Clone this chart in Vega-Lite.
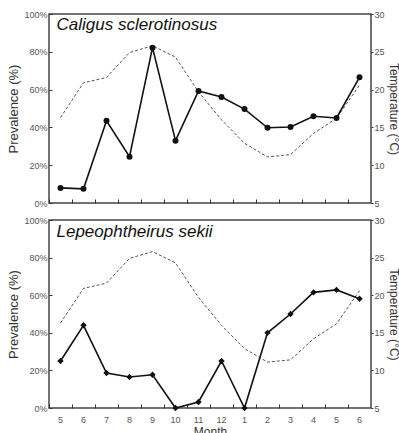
{
  "$schema": "https://vega.github.io/schema/vega-lite/v6.json",
  "padding": {"left": 7, "top": 9, "right": 1, "bottom": 0},
  "spacing": 6,
  "config": {
    "font": "Liberation Sans",
    "view": {"stroke": "#444", "strokeWidth": 1.5},
    "axis": {
      "labelFont": "Liberation Sans",
      "labelColor": "#555",
      "labelFontSize": 9,
      "titleFont": "Liberation Sans",
      "titleFontWeight": "normal",
      "titleFontSize": 13,
      "titleColor": "#333",
      "tickColor": "#333",
      "tickWidth": 1,
      "domain": false,
      "grid": false
    }
  },
  "datasets": {
    "d": [
      {"i": 0, "temp": 16.3, "caligus": 8.0, "lepeo": 25.0},
      {"i": 1, "temp": 20.9, "caligus": 7.5, "lepeo": 44.0},
      {"i": 2, "temp": 21.6, "caligus": 43.5, "lepeo": 18.6},
      {"i": 3, "temp": 24.9, "caligus": 24.5, "lepeo": 16.5},
      {"i": 4, "temp": 25.8, "caligus": 82.2, "lepeo": 17.7},
      {"i": 5, "temp": 24.3, "caligus": 33.0, "lepeo": 0.0},
      {"i": 6, "temp": 19.7, "caligus": 59.3, "lepeo": 3.2},
      {"i": 7, "temp": 16.0, "caligus": 56.1, "lepeo": 25.0},
      {"i": 8, "temp": 12.9, "caligus": 49.7, "lepeo": 0.0},
      {"i": 9, "temp": 11.1, "caligus": 39.8, "lepeo": 40.0},
      {"i": 10, "temp": 11.4, "caligus": 40.2, "lepeo": 50.0},
      {"i": 11, "temp": 14.2, "caligus": 45.9, "lepeo": 61.5},
      {"i": 12, "temp": 16.2, "caligus": 45.0, "lepeo": 62.8},
      {"i": 13, "temp": 20.6, "caligus": 66.5, "lepeo": 58.1}
    ]
  },
  "vconcat": [
    {
      "width": 322,
      "height": 189,
      "data": {"name": "d"},
      "resolve": {"scale": {"y": "independent"}, "axis": {"x": "independent"}},
      "layer": [
        {
          "mark": {"type": "line", "strokeDash": [3, 2], "strokeWidth": 1, "color": "#555"},
          "encoding": {
            "x": {"field": "i", "type": "ordinal", "scale": {"type": "band", "paddingInner": 0, "paddingOuter": 0},
                  "axis": {"bandPosition": 0, "labels": false, "title": null, "tickSize": -4, "orient": "bottom"}},
            "y": {"field": "temp", "type": "quantitative", "scale": {"domain": [5, 30], "nice": false},
                  "axis": {"orient": "right", "title": "Temperature (°C)", "titleFontSize": 12, "values": [5, 10, 15, 20, 25, 30], "tickSize": 2, "labelPadding": 1, "titlePadding": 2}}
          }
        },
        {
          "encoding": {
            "x": {"field": "i", "type": "ordinal", "axis": null},
            "y": {"field": "caligus", "type": "quantitative", "scale": {"domain": [0, 100], "nice": false},
                  "axis": {"orient": "left", "title": "Prevalence (%)", "values": [0, 20, 40, 60, 80, 100], "labelExpr": "datum.value + '%'", "tickSize": -3, "labelPadding": 5, "titlePadding": 3}}
          },
          "layer": [
            {"mark": {"type": "line", "color": "#111", "strokeWidth": 1.6, "point": {"filled": true, "color": "#111", "size": 36, "shape": "circle"}}},
            {
              "transform": [{"filter": "datum.i == 0"}],
              "mark": {"type": "text", "align": "left", "baseline": "top", "dx": -4, "dy": 3, "fontStyle": "italic", "fontSize": 17, "font": "Liberation Sans", "color": "#111"},
              "encoding": {"x": {"datum": 0}, "y": {"datum": 100}, "text": {"value": "Caligus sclerotinosus"}}
            }
          ]
        }
      ]
    },
    {
      "width": 322,
      "height": 188,
      "data": {"name": "d"},
      "resolve": {"scale": {"y": "independent"}, "axis": {"x": "independent"}},
      "layer": [
        {
          "mark": {"type": "line", "strokeDash": [3, 2], "strokeWidth": 1, "color": "#555"},
          "encoding": {
            "x": {"field": "i", "type": "ordinal", "scale": {"type": "band", "paddingInner": 0, "paddingOuter": 0},
                  "axis": {"bandPosition": 0, "labels": false, "title": null, "tickSize": -4, "orient": "bottom"}},
            "y": {"field": "temp", "type": "quantitative", "scale": {"domain": [5, 30], "nice": false},
                  "axis": {"orient": "right", "title": "Temperature (°C)", "titleFontSize": 12, "values": [5, 10, 15, 20, 25, 30], "tickSize": 2, "labelPadding": 1, "titlePadding": 2}}
          }
        },
        {
          "encoding": {
            "x": {"field": "i", "type": "ordinal",
                  "axis": {"orient": "bottom", "ticks": false, "labelPadding": 7, "labelAngle": 0, "labelExpr": "datum.value < 8 ? datum.value + 5 : datum.value - 7", "title": "Month", "titlePadding": 2, "titleFontSize": 12}},
            "y": {"field": "lepeo", "type": "quantitative", "scale": {"domain": [0, 100], "nice": false},
                  "axis": {"orient": "left", "title": "Prevalence (%)", "values": [0, 20, 40, 60, 80, 100], "labelExpr": "datum.value + '%'", "tickSize": -3, "labelPadding": 5, "titlePadding": 3}}
          },
          "layer": [
            {"mark": {"type": "line", "color": "#111", "strokeWidth": 1.6, "point": {"filled": true, "color": "#111", "size": 40, "shape": "diamond"}}},
            {
              "transform": [{"filter": "datum.i == 0"}],
              "mark": {"type": "text", "align": "left", "baseline": "top", "dx": -4, "dy": 4, "fontStyle": "italic", "fontSize": 17, "font": "Liberation Sans", "color": "#111"},
              "encoding": {"x": {"datum": 0}, "y": {"datum": 100}, "text": {"value": "Lepeophtheirus sekii"}}
            }
          ]
        }
      ]
    }
  ]
}
